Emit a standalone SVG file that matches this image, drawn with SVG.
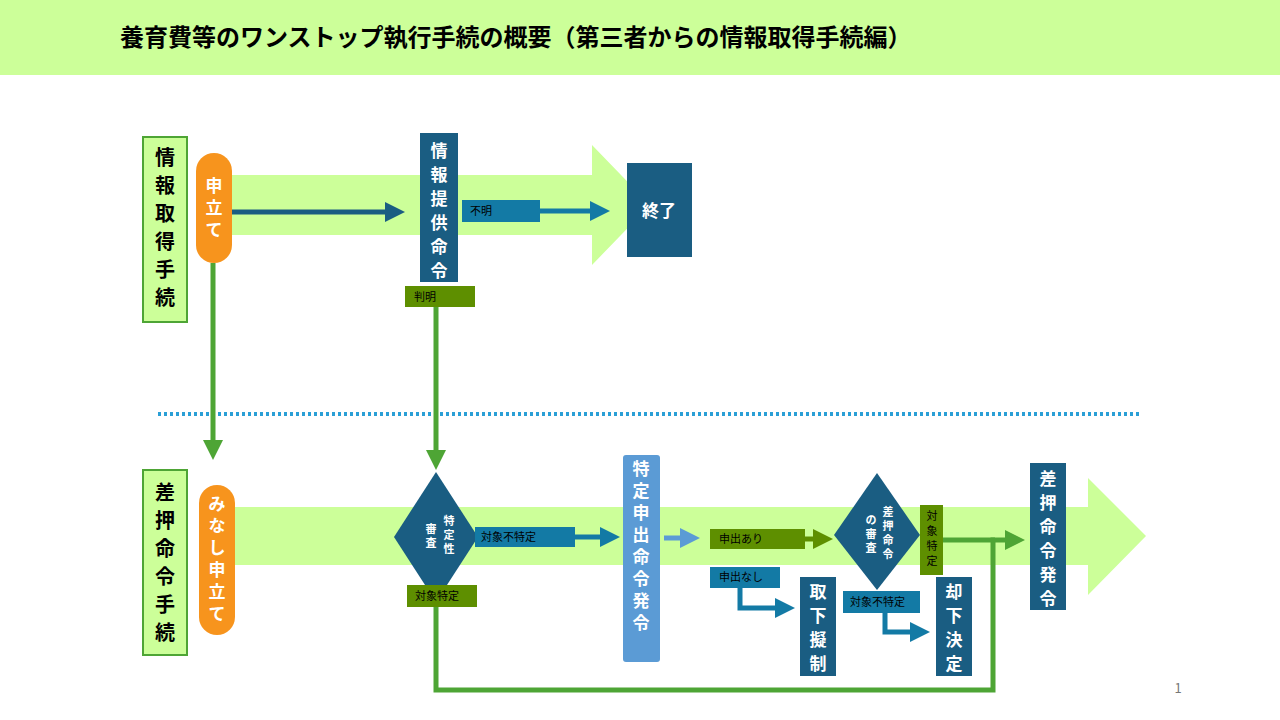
<svg xmlns="http://www.w3.org/2000/svg" width="1280" height="720" viewBox="0 0 1280 720">
<defs>
<style>
text{font-family:"Noto Sans CJK JP","Noto Sans",sans-serif}
.t{fill:#fff;font-weight:bold;font-size:17px}
.d{fill:#fff;font-weight:bold;font-size:11px}
.s{font-size:11px;fill:#000}
.db{fill:#1a5d82}
.tl{fill:#137aa5}
.gl{fill:#5e8f00}
.gr{stroke:#4ea535;stroke-width:5;fill:none}
.bl{stroke:#137aa5;stroke-width:5;fill:none}
</style>
<marker id="ag" viewBox="0 0 10 10" refX="5" refY="5" markerWidth="4" markerHeight="4" orient="auto"><path d="M0,0L10,5L0,10z" fill="#4ea535"/></marker>
<marker id="ab" viewBox="0 0 10 10" refX="5" refY="5" markerWidth="4" markerHeight="4" orient="auto"><path d="M0,0L10,5L0,10z" fill="#137aa5"/></marker>
<marker id="ad" viewBox="0 0 10 10" refX="5" refY="5" markerWidth="4" markerHeight="4" orient="auto"><path d="M0,0L10,5L0,10z" fill="#1a5d82"/></marker>
<marker id="alb" viewBox="0 0 10 10" refX="5" refY="5" markerWidth="4" markerHeight="4" orient="auto"><path d="M0,0L10,5L0,10z" fill="#5b9bd5"/></marker>
<marker id="agl" viewBox="0 0 10 10" refX="5" refY="5" markerWidth="4" markerHeight="4" orient="auto"><path d="M0,0L10,5L0,10z" fill="#5e8f00"/></marker>
</defs>
<rect width="1280" height="720" fill="#fff"/>
<rect width="1280" height="75" fill="#ccff99"/>
<text x="120" y="46" font-size="24" font-weight="bold" fill="#000">養育費等のワンストップ執行手続の概要（第三者からの情報取得手続編）</text>
<g id="bands">
<path d="M230,175H592V145L650,205L592,265V235H230z" fill="#ccff99"/>
<path d="M230,507H1088V478L1146,536L1088,595V565H230z" fill="#ccff99"/>
</g>
<line x1="158" y1="414" x2="1140" y2="414" stroke="#2a9fd6" stroke-width="4" stroke-dasharray="3,3"/>
<g id="connectors">
<line x1="232" y1="212" x2="395" y2="212" stroke="#1a5d82" stroke-width="5" marker-end="url(#ad)"/>
<path d="M540,211H600" class="bl" marker-end="url(#ab)"/>
<path d="M213,263V450" class="gr" marker-end="url(#ag)"/>
<path d="M436,307V460" class="gr" marker-end="url(#ag)"/>
<path d="M575,537H610" class="bl" marker-end="url(#ab)"/>
<path d="M664,538H690" stroke="#5b9bd5" stroke-width="5" marker-end="url(#alb)"/>
<path d="M805,539H823" stroke="#5e8f00" stroke-width="5" marker-end="url(#agl)"/>
<path d="M740,588V608H785" class="bl" marker-end="url(#ab)"/>
<path d="M885,613V632H920" class="bl" marker-end="url(#ab)"/>
<path d="M436,607V690H993V540H1015" class="gr" marker-end="url(#ag)"/>
<path d="M943,540H995" class="gr"/>
</g>
<g id="lbl1"><rect x="143" y="137" width="44" height="185" fill="#ccff99" stroke="#4ea535" stroke-width="2"/><text x="165" y="165" font-size="20" font-weight="bold" text-anchor="middle"><tspan x="165">情</tspan><tspan x="165" dy="28">報</tspan><tspan x="165" dy="28">取</tspan><tspan x="165" dy="28">得</tspan><tspan x="165" dy="28">手</tspan><tspan x="165" dy="28">続</tspan></text></g>
<g id="lbl2"><rect x="143" y="470" width="44" height="185" fill="#ccff99" stroke="#4ea535" stroke-width="2"/><text x="165" y="500" font-size="20" font-weight="bold" text-anchor="middle"><tspan x="165">差</tspan><tspan x="165" dy="28">押</tspan><tspan x="165" dy="28">命</tspan><tspan x="165" dy="28">令</tspan><tspan x="165" dy="28">手</tspan><tspan x="165" dy="28">続</tspan></text></g>
<g id="moushitate"><rect x="196" y="153" width="36" height="110" rx="18" fill="#f7941d"/><text class="t" text-anchor="middle"><tspan x="214" y="192">申</tspan><tspan x="214" dy="22">立</tspan><tspan x="214" dy="22">て</tspan></text></g>
<g id="minashi"><rect x="199" y="485" width="36" height="150" rx="18" fill="#f7941d"/><text class="t" text-anchor="middle"><tspan x="217" y="510">み</tspan><tspan x="217" dy="22">な</tspan><tspan x="217" dy="22">し</tspan><tspan x="217" dy="22">申</tspan><tspan x="217" dy="22">立</tspan><tspan x="217" dy="22">て</tspan></text></g>
<g id="joho"><rect x="420" y="133" width="38" height="149" class="db"/><text class="t" text-anchor="middle"><tspan x="439" y="157">情</tspan><tspan x="439" dy="24">報</tspan><tspan x="439" dy="24">提</tspan><tspan x="439" dy="24">供</tspan><tspan x="439" dy="24">命</tspan><tspan x="439" dy="24">令</tspan></text></g>
<g id="fumei"><rect x="462" y="200" width="78" height="22" class="tl"/><text x="470" y="215" class="s">不明</text></g>
<g id="hanmei"><rect x="405" y="286" width="70" height="21" class="gl"/><text x="414" y="301" class="s">判明</text></g>
<g id="shuryo"><rect x="627" y="163" width="65" height="94" class="db"/><text x="659" y="217" class="t" text-anchor="middle">終了</text></g>
<g id="d1"><path d="M436,472L478,537L436,602L394,537z" class="db"/><text class="d" text-anchor="middle"><tspan x="449" y="525">特</tspan><tspan x="449" dy="14">定</tspan><tspan x="449" dy="14">性</tspan><tspan x="431" y="533">審</tspan><tspan x="431" dy="14">査</tspan></text></g>
<g id="ftt1"><rect x="475" y="527" width="100" height="20" class="tl"/><text x="481" y="541" class="s">対象不特定</text></g>
<g id="tt1"><rect x="407" y="585" width="70" height="22" class="gl"/><text x="415" y="600" class="s">対象特定</text></g>
<g id="tokutei"><rect x="623" y="455" width="37" height="207" rx="3" fill="#5b9bd5"/><text class="t" text-anchor="middle"><tspan x="641" y="475">特</tspan><tspan x="641" dy="22">定</tspan><tspan x="641" dy="22">申</tspan><tspan x="641" dy="22">出</tspan><tspan x="641" dy="22">命</tspan><tspan x="641" dy="22">令</tspan><tspan x="641" dy="22">発</tspan><tspan x="641" dy="22">令</tspan></text></g>
<g id="ari"><rect x="710" y="529" width="95" height="20" class="gl"/><text x="719" y="543" class="s">申出あり</text></g>
<g id="nashi"><rect x="710" y="567" width="70" height="21" class="tl"/><text x="719" y="581" class="s">申出なし</text></g>
<g id="d2"><path d="M877,473L920,535L877,590L834,535z" class="db"/><text class="d" text-anchor="middle"><tspan x="888" y="516">差</tspan><tspan x="888" dy="14">押</tspan><tspan x="888" dy="14">命</tspan><tspan x="888" dy="14">令</tspan><tspan x="871" y="524">の</tspan><tspan x="871" dy="14">審</tspan><tspan x="871" dy="14">査</tspan></text></g>
<g id="tt2"><rect x="920" y="505" width="23" height="70" class="gl"/><text class="s" text-anchor="middle"><tspan x="932" y="520">対</tspan><tspan x="932" dy="15">象</tspan><tspan x="932" dy="15">特</tspan><tspan x="932" dy="15">定</tspan></text></g>
<g id="ftt2"><rect x="843" y="591" width="77" height="22" class="tl"/><text x="850" y="606" class="s">対象不特定</text></g>
<g id="torisage"><rect x="800" y="577" width="36" height="99" class="db"/><text class="t" text-anchor="middle"><tspan x="818" y="598">取</tspan><tspan x="818" dy="24">下</tspan><tspan x="818" dy="24">擬</tspan><tspan x="818" dy="24">制</tspan></text></g>
<g id="kyakka"><rect x="936" y="577" width="36" height="99" class="db"/><text class="t" text-anchor="middle"><tspan x="954" y="598">却</tspan><tspan x="954" dy="24">下</tspan><tspan x="954" dy="24">決</tspan><tspan x="954" dy="24">定</tspan></text></g>
<g id="sashiosae"><rect x="1030" y="463" width="36" height="147" class="db"/><text class="t" text-anchor="middle"><tspan x="1048" y="485">差</tspan><tspan x="1048" dy="24">押</tspan><tspan x="1048" dy="24">命</tspan><tspan x="1048" dy="24">令</tspan><tspan x="1048" dy="24">発</tspan><tspan x="1048" dy="24">令</tspan></text></g>
<text x="1178" y="693" font-size="13" fill="#777" text-anchor="middle">1</text>
</svg>
